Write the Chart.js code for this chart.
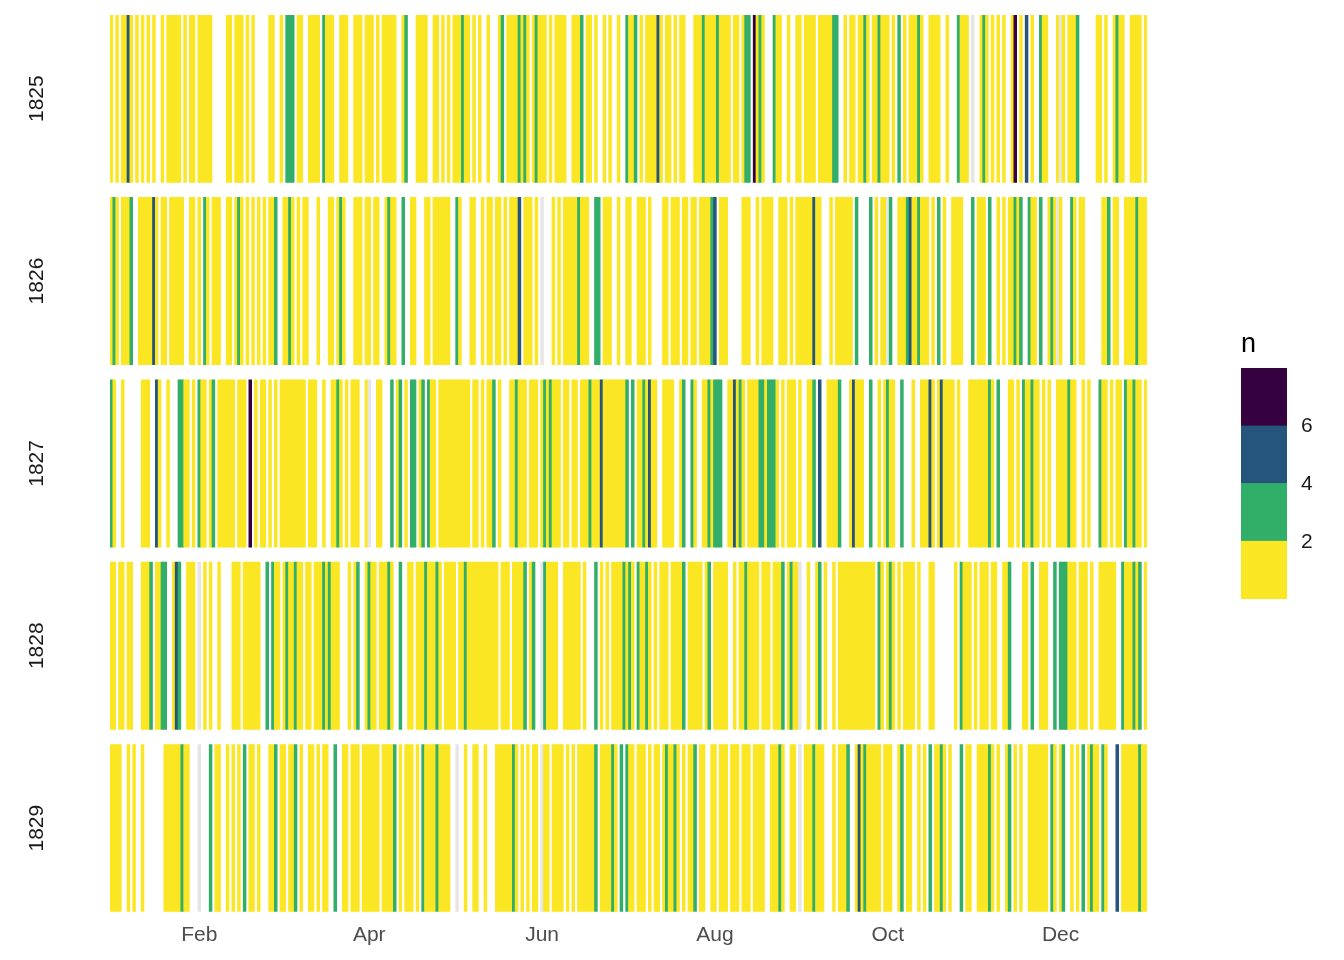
<!DOCTYPE html>
<html>
<head>
<meta charset="utf-8">
<title>n per day, 1825-1829</title>
<script src="https://cdn.jsdelivr.net/npm/chart.js@4.4.1/dist/chart.umd.min.js"></script>
<style>
  html, body { margin: 0; padding: 0; background: #fff; }
  canvas { display: block; }
</style>
</head>
<body>
<canvas id="chart" width="1344" height="960"></canvas>
<script>
// one character per day of the year (366 slots), "0" = no record, "x" = NA
const years = ["1825", "1826", "1827", "1828", "1829"];

const n1825 = [
  "1010115101", "0101010010", "1111101011", "0111110000", "0110111010",
  "1000001100", "1033301100", "1111031110", "0111001110", "1110101111",
  "1001300011", "1100110101", "0111311010", "1001000130", "1111313101",
  "3111010111", "1001113011", "0100101001", "0031130101", "1115101101",
  "0110001113", "1111311110", "1101330713", "1000311001", "0011011110",
  "1111133001", "0110113101", "1311101030", "1011131001", "1110010003",
  "1110x00131", "0101010017", "0105010031", "10001x1011", "1300000011",
  "0100131100", "111101"
].join("");

const n1826 = [
  "1310111300", "1111151011", "0111110011", "0103101110", "0110131010",
  "1010101130", "0113101011", "0001000110", "1310001110", "1101100131",
  "1003001100", "0110111111", "0031000110", "0101101101", "0111501110",
  "10x0001010", "1111131110", "0330111001", "0011001110", "1000011011",
  "1011011011", "1135011100", "0001110010", "1111001110", "1011111151",
  "1000101111", "1103000030", "1011x30011", "1351131110", "1030100111",
  "1000301110", "3001010113", "1300311030", "0131x10003", "1011000000",
  "1130110011", "113111"
].join("");

const n1827 = [
  "3100100000", "0111005100", "1000331101", "0311013011", "1111011107",
  "0101101010", "1111111110", "1110010011", "3101011100", "1x00110003",
  "0130103301", "3031101111", "1111111011", "0101130100", "0113111011",
  "1013131110", "1101101113", "1115111111", "1130301131", "5110011110",
  "0130031001", "1313330011", "5131011113", "3133310101", "1101001130",
  "5001111300", "0151110030", "0101311003", "0001001115", "1015111101",
  "0001111111", "3103000110", "1031131101", "0100111131", "1001010003",
  "1101011031", "131101"
].join("");

const n1828 = [
  "1101101100", "0111301133", "0015300111", "0x01010010", "0001110111",
  "1110030311", "0131131101", "1011131311", "1000101300", "1311011131",
  "0030011011", "1311131011", "1101131111", "1111111011", "1011113013",
  "00x3111100", "1111110100", "0301010111", "1313103113", "1010111011",
  "1130111110", "1301111100", "1011311110", "1110111301", "311x001001",
  "3010010111", "1111111111", "0310131010", "1111010001", "1000000010",
  "3111010111", "0110011300", "0011030011", "1003033311", "1011101001",
  "1111100311", "131301"
].join("");

const n1829 = [
  "1111001010", "0100000001", "1111131100", "0x00030110", "0101010301",
  "1010001130", "1101130100", "1101011003", "0011011101", "1111101111",
  "3010111010", "3111131111", "00x0010011", "0010001111", "1131010101",
  "10x1101111", "0101011111", "1301111310", "3031101110", "1011013113",
  "1010113011", "0011011101", "1101110111", "1001113100", "110x011131",
  "1100010111", "3001513111", "1101110013", "0110010103", "0113101000",
  "3011001111", "3101001301", "0100111111", "1031013001", "0103013110",
  "3100050111", "111311"
].join("");

const dayCounts = [n1825, n1826, n1827, n1828, n1829];

// x axis: first of the month, as day of a leap year
const tickDays = [32, 92, 153, 214, 275, 336];
const tickLabels = ["Feb", "Apr", "Jun", "Aug", "Oct", "Dec"];

// binned colour scale
const legendBreaks = [2, 4, 6];
const binColours = ["#FBE624", "#31AE68", "#26557B", "#36013F"];
const naColour = "#E6E6E6";

const rowSpan = 167 / 182;          // tile height, gap is the rest
const yMax = 895 / 182;
const FONT = '"Liberation Sans", Arial, Helvetica, sans-serif';

function fillFor(v) {
  if (v === "x") return naColour;
  const n = Number(v);
  let bin = 0;
  while (bin < legendBreaks.length && n > legendBreaks[bin]) bin++;
  return binColours[bin];
}

const datasets = dayCounts.map((s, row) => {
  const pts = [], cols = [];
  s.split("").forEach((c, i) => {
    if (c === "0") return;
    pts.push({ x: i + 1, y: [row, row + rowSpan] });
    cols.push(fillFor(c));
  });
  return {
    label: years[row],
    data: pts,
    backgroundColor: cols,
    borderWidth: 0,
    grouped: false,
    barPercentage: 1,
    categoryPercentage: 1
  };
});

const yearLabels = {
  id: "yearLabels",
  afterDraw(chart) {
    const { ctx } = chart;
    const y = chart.scales.y;
    ctx.save();
    ctx.font = "21px " + FONT;
    ctx.fillStyle = "#1A1A1A";
    ctx.textAlign = "center";
    ctx.textBaseline = "middle";
    years.forEach((yr, i) => {
      const cy = (y.getPixelForValue(i) + y.getPixelForValue(i + rowSpan)) / 2;
      ctx.save();
      ctx.translate(37, cy);
      ctx.rotate(-Math.PI / 2);
      ctx.fillText(yr, 0, 0);
      ctx.restore();
    });
    ctx.restore();
  }
};

const colourBar = {
  id: "colourBar",
  afterDraw(chart) {
    const { ctx } = chart;
    const left = 1241, top = 368, w = 46, h = 230.5;
    const step = h / binColours.length;
    ctx.save();
    // top bin is the highest count
    binColours.slice().reverse().forEach((c, i) => {
      ctx.fillStyle = c;
      ctx.fillRect(left, top + i * step, w, step + 0.5);
    });
    ctx.fillStyle = "#000";
    ctx.font = "27px " + FONT;
    ctx.textAlign = "left";
    ctx.textBaseline = "alphabetic";
    ctx.fillText("n", left, 352);
    ctx.font = "21px " + FONT;
    ctx.textBaseline = "middle";
    ctx.fillStyle = "#1A1A1A";
    legendBreaks.forEach((b, i) => {
      const yy = top + h - (i + 1) * step;
      ctx.fillText(String(b), 1301, yy + 1);
    });
    ctx.restore();
  }
};

new Chart(document.getElementById("chart"), {
  type: "bar",
  data: { datasets },
  options: {
    responsive: false,
    animation: false,
    layout: { padding: { left: 110, right: 197, top: 15, bottom: 1 } },
    plugins: {
      legend: { display: false },
      tooltip: { enabled: false }
    },
    scales: {
      x: {
        type: "linear",
        bounds: "data",
        offset: false,
        min: 0.5,
        max: 366.5,
        grid: { display: false, drawTicks: false, offset: false },
        border: { display: false },
        afterBuildTicks: (scale) => {
          scale.ticks = tickDays.map(v => ({ value: v }));
        },
        ticks: {
          autoSkip: false,
          maxRotation: 0,
          padding: 11,
          color: "#4D4D4D",
          font: { family: FONT, size: 21 },
          callback: (v, i) => tickLabels[i]
        }
      },
      y: {
        type: "linear",
        display: false,
        bounds: "data",
        reverse: true,
        min: 0,
        max: yMax
      }
    }
  },
  plugins: [yearLabels, colourBar]
});
</script>
</body>
</html>
